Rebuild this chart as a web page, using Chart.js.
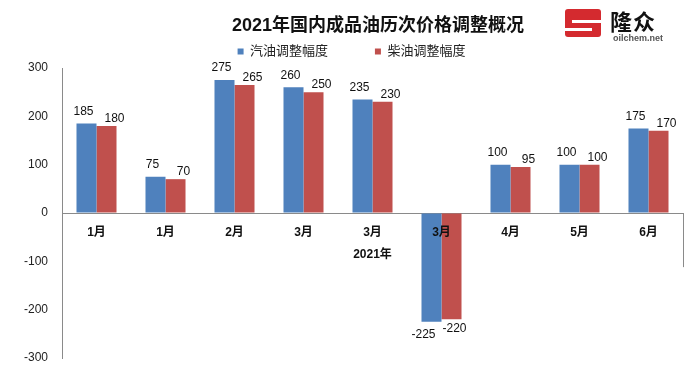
<!DOCTYPE html>
<html>
<head>
<meta charset="utf-8">
<script src="https://cdn.jsdelivr.net/npm/chart.js@4.4.0/dist/chart.umd.min.js"></script>
<style>
  html, body { margin: 0; padding: 0; background: #fff; }
  .wrap { position: relative; width: 696px; height: 374px; }
  #chart { position: absolute; left: 0; top: 0; }
  .title {
    position: absolute; left: 228px; top: 10px; width: 300px; text-align: center;
    font: bold 18px "Liberation Sans", "Noto Sans CJK SC", sans-serif; color: #111;
    white-space: nowrap;
  }
  .logo { position: absolute; left: 565px; top: 8px; width: 120px; height: 32px; }
  .mark {
    position: absolute; left: 0; top: 1px; width: 36px; height: 28px;
    background: #d42a2f; border-radius: 3px;
  }
  .mark .s1 { position: absolute; left: 7px; top: 11px; width: 29px; height: 3px; background: #fff; }
  .mark .s2 { position: absolute; left: 0; top: 19px; width: 27px; height: 3px; background: #fff; }
  .cn {
    position: absolute; left: 45px; top: -4px; line-height: 1;
    font: bold 22px "Noto Sans CJK SC", sans-serif; color: #111; letter-spacing: 1px;
  }
  .en {
    position: absolute; left: 48px; top: 25px; line-height: 1;
    font: bold 9px "Liberation Sans", sans-serif; color: #555;
  }
</style>
</head>
<body>
<div class="wrap">
  <canvas id="chart" width="696" height="374"></canvas>
  <div class="title">2021年国内成品油历次价格调整概况</div>
  <div class="logo">
    <div class="mark"><div class="s1"></div><div class="s2"></div></div>
    <div class="cn">隆众</div>
    <div class="en">oilchem.net</div>
  </div>
</div>
<script>
// data
const months = ['1月', '1月', '2月', '3月', '3月', '3月', '4月', '5月', '6月'];
const gasoline = [185, 75, 275, 260, 235, -225, 100, 100, 175];
const diesel = [180, 70, 265, 250, 230, -220, 95, 100, 170];
const seriesNames = ['汽油调整幅度', '柴油调整幅度'];
const yTicks = [-300, -200, -100, 0, 100, 200, 300];

const blue = '#4f81bd';
const red = '#c0504d';
const font = '"Liberation Sans", "Noto Sans CJK SC", sans-serif';

// value labels, staggered a little like the original
const labelShift = [
  { dx: -3, up: 12, negDx: -8, down: 13 },
  { dx: 8, up: 7, negDx: 3, down: 9 }
];

const barLabels = {
  id: 'barLabels',
  afterDatasetsDraw(chart) {
    const ctx = chart.ctx;
    ctx.save();
    ctx.font = '12px ' + font;
    ctx.fillStyle = '#111';
    ctx.textAlign = 'center';
    ctx.textBaseline = 'middle';
    chart.data.datasets.forEach((ds, i) => {
      const meta = chart.getDatasetMeta(i);
      const s = labelShift[i];
      meta.data.forEach((bar, j) => {
        const v = ds.data[j];
        if (v >= 0) ctx.fillText(String(v), bar.x + s.dx, bar.y - s.up);
        else ctx.fillText(String(v), bar.x + s.negDx, bar.y + s.down);
      });
    });
    ctx.restore();
  }
};

// short frame line at the right end of the category axis
const rightEdge = {
  id: 'rightEdge',
  afterDraw(chart) {
    const { ctx, chartArea, scales } = chart;
    const y0 = scales.y.getPixelForValue(0);
    const y1 = scales.y.getPixelForValue(-112);
    ctx.save();
    ctx.strokeStyle = '#8a8a8a';
    ctx.lineWidth = 1;
    ctx.beginPath();
    ctx.moveTo(chartArea.right + 0.5, y0);
    ctx.lineTo(chartArea.right + 0.5, y1);
    ctx.stroke();
    ctx.restore();
  }
};

new Chart(document.getElementById('chart'), {
  type: 'bar',
  data: {
    labels: months,
    datasets: [
      { label: seriesNames[0], data: gasoline, backgroundColor: blue },
      { label: seriesNames[1], data: diesel, backgroundColor: red }
    ]
  },
  options: {
    responsive: false,
    animation: false,
    devicePixelRatio: 1,
    layout: { padding: { top: 35, right: 13, bottom: 16, left: 20 } },
    datasets: { bar: { barPercentage: 1, categoryPercentage: 0.58 } },
    plugins: {
      tooltip: { enabled: false },
      legend: {
        position: 'top',
        labels: {
          boxWidth: 6,
          boxHeight: 6,
          padding: 10,
          color: '#222',
          font: { size: 13, family: font },
          generateLabels(chart) {
            const items = Chart.defaults.plugins.legend.labels.generateLabels(chart);
            items[0].text = items[0].text + '\u3000\u3000   ';
            return items;
          }
        }
      }
    },
    scales: {
      x: {
        position: { y: 0 },
        grid: { display: false, drawTicks: false },
        border: { display: true, color: '#8a8a8a', width: 1 },
        ticks: { z: 1, color: '#111', padding: 12, font: { size: 12, weight: 'bold', family: font } },
        title: { display: true, text: '2021年', color: '#111', padding: { top: -4 }, font: { size: 12, weight: 'bold', family: font } }
      },
      y: {
        min: yTicks[0],
        max: yTicks[yTicks.length - 1],
        afterBuildTicks(scale) { scale.ticks = yTicks.map(v => ({ value: v })); },
        afterFit(scale) { scale.width = 42; },
        grid: { display: true, drawOnChartArea: false, drawTicks: true, tickLength: 11, tickColor: 'rgba(0,0,0,0)' },
        border: { display: true, color: '#8a8a8a', width: 1 },
        ticks: { color: '#222', padding: 3, font: { size: 12, family: font } }
      }
    }
  },
  plugins: [barLabels, rightEdge]
});
</script>
</body>
</html>
